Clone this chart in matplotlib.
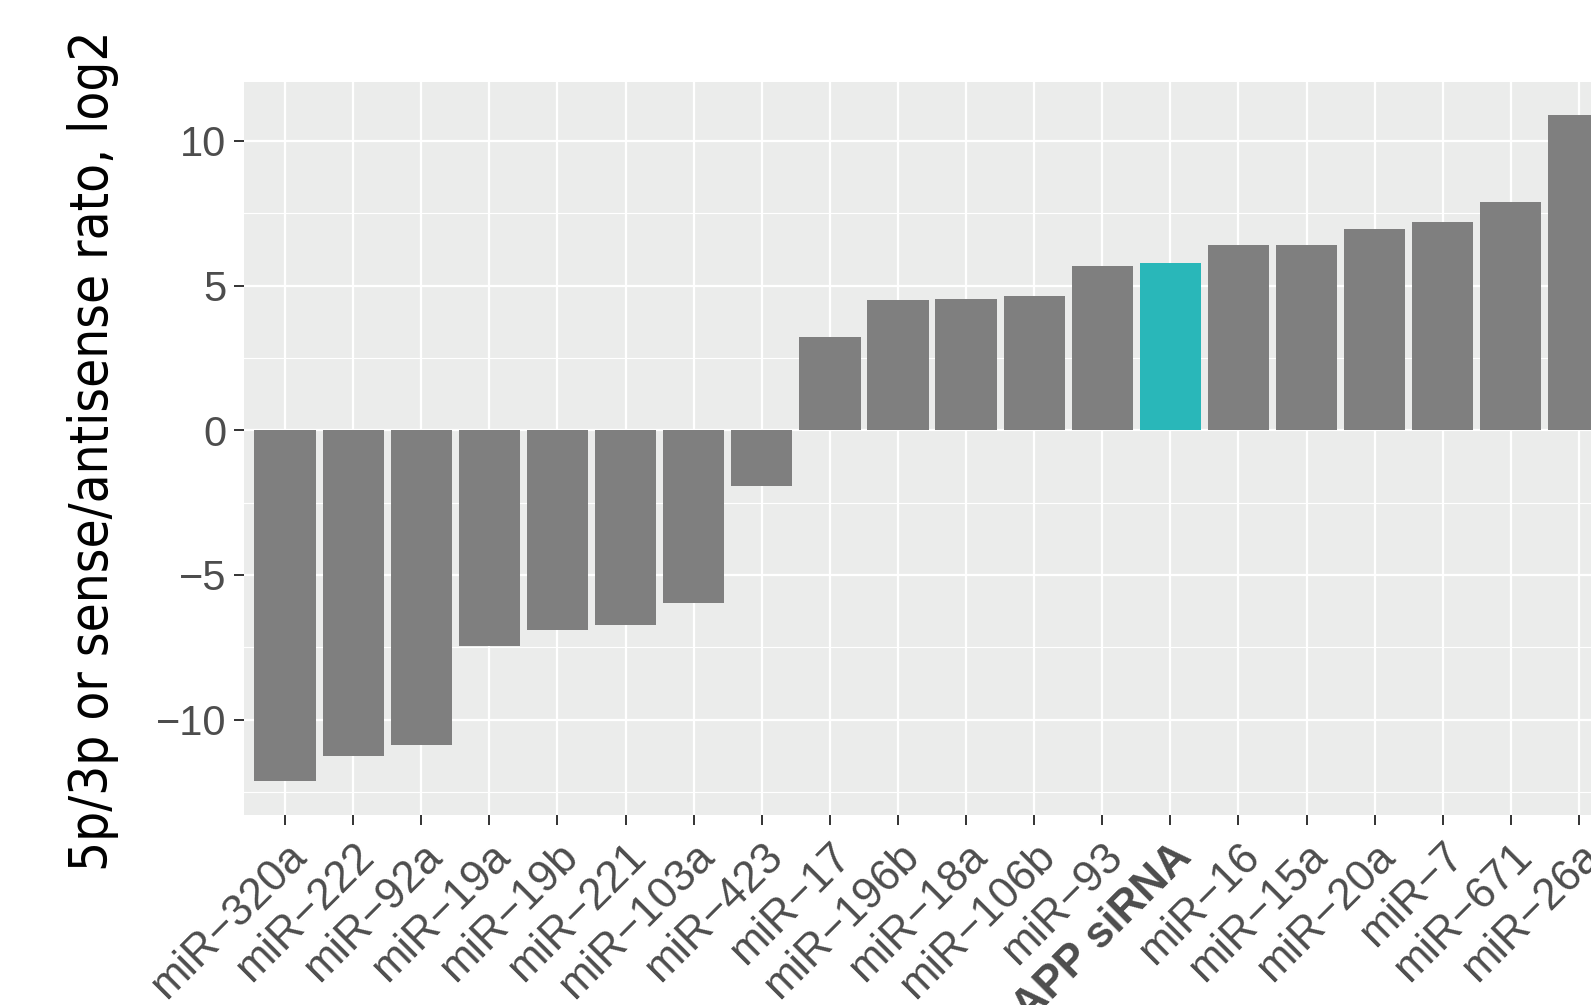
import matplotlib
matplotlib.use("Agg")
import numpy as np
from matplotlib import pyplot as plt
from matplotlib import font_manager
from matplotlib.ticker import MultipleLocator

# strand ratio per small RNA, sorted low to high
names = ["miR-320a", "miR-222", "miR-92a", "miR-19a", "miR-19b", "miR-221",
         "miR-103a", "miR-423", "miR-17", "miR-196b", "miR-18a", "miR-106b",
         "miR-93", "APP siRNA", "miR-16", "miR-15a", "miR-20a", "miR-7",
         "miR-671", "miR-26a"]
ratio_log2 = [-12.14, -11.26, -10.88, -7.47, -6.91, -6.74, -5.96, -1.93,
              3.23, 4.49, 4.53, 4.63, 5.68, 5.79, 6.41, 6.41, 6.96, 7.20,
              7.89, 10.90]
highlight = "APP siRNA"
ylabel = "5p/3p or sense/antisense rato, log2"

panel_bg = "#EBECEB"
bar_grey = "#7F7F7F"
teal = "#29B7B9"
text_grey = "#4D4D4D"


def narrow_font():
    # look for any condensed / narrow face; None if there is none
    for f in font_manager.fontManager.ttflist:
        tag = (f.name + " " + str(f.stretch) + " " + f.fname).lower()
        if ("narrow" in tag or "condensed" in tag) and f.style == "normal" \
                and f.weight in (400, "normal", "regular"):
            return f.fname
    return None


def main():
    fig = plt.figure(figsize=(15.91, 10.05), dpi=100)
    # panel runs off the right edge of the canvas
    ax = fig.add_axes([0.1535, 0.1893, 0.8646, 0.7295])
    ax.set_facecolor(panel_bg)

    x = np.arange(len(names))
    colors = [teal if n == highlight else bar_grey for n in names]
    ax.bar(x, ratio_log2, width=0.9, color=colors, zorder=3)

    # ggplot-style 5% expansion
    lo, hi = min(ratio_log2), max(ratio_log2)
    pad = 0.05 * (hi - lo)
    ax.set_ylim(lo - pad, hi + pad)
    ax.set_xlim(-0.6, len(names) - 0.4)

    ax.yaxis.set_major_locator(MultipleLocator(5))
    ax.yaxis.set_minor_locator(MultipleLocator(2.5))
    ax.grid(which="major", color="white", linewidth=1.6, zorder=1)
    ax.grid(which="minor", axis="y", color="white", linewidth=0.8, zorder=1)
    ax.tick_params(axis="y", which="minor", length=0)

    for s in ax.spines.values():
        s.set_visible(False)

    ax.set_xticks(x)
    ax.set_xticklabels([n.replace("-", "\u2212") for n in names],
                       rotation=45, ha="right", rotation_mode="anchor",
                       fontsize=31.5, color=text_grey, family="Liberation Sans")
    for lbl in ax.get_xticklabels():
        if lbl.get_text() == highlight:
            lbl.set_fontweight("bold")
    yt = [-10, -5, 0, 5, 10]
    ax.set_yticks(yt)
    ax.set_yticklabels([str(v).replace("-", "\u2212") for v in yt],
                       fontsize=30, color=text_grey, family="Liberation Sans")
    ax.tick_params(axis="both", which="major", length=7, width=1.4,
                   color="#333333", pad=6)
    ax.tick_params(axis="x", pad=8)

    # axis title, squeezed to the panel height
    path = narrow_font()
    if path:
        fp = font_manager.FontProperties(fname=path, size=44)
    else:
        fp = font_manager.FontProperties(family="DejaVu Sans", size=34)
    t = fig.text(0.0585, 0.5517, ylabel, rotation=90, ha="center",
                 va="center", fontproperties=fp, color="black")
    fig.canvas.draw()
    h = t.get_window_extent().height
    fp.set_size(fp.get_size() * 840.0 / h)
    t.set_fontproperties(fp)

    fig.savefig("out.png", dpi=100)


if __name__ == "__main__":
    main()
